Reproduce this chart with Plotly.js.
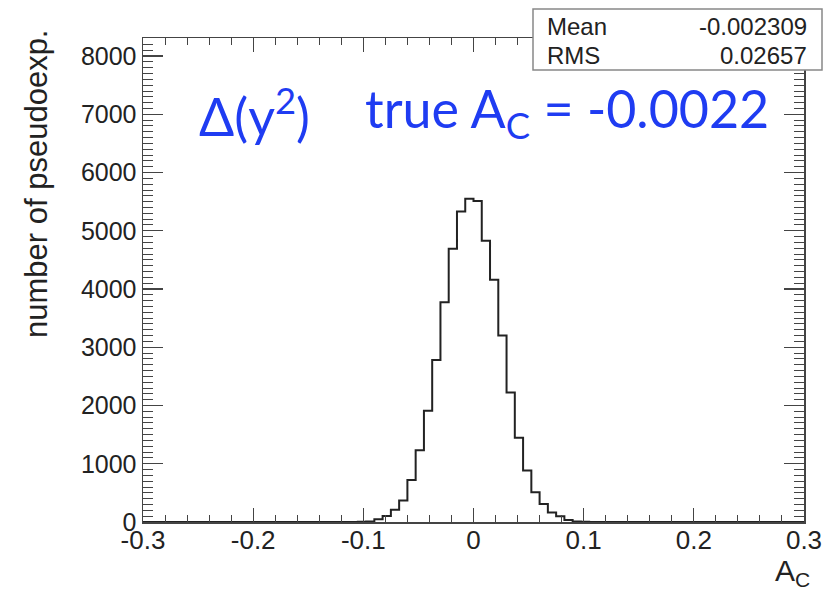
<!DOCTYPE html>
<html>
<head>
<meta charset="utf-8">
<script src="https://cdn.plot.ly/plotly-3.0.1.min.js"></script>
<style>html,body{margin:0;padding:0;background:#fff;}#chart{width:824px;height:592px;}</style>
</head>
<body>
<div id="chart"></div>
<script>
// Histogram: 80 bins from -0.3 to 0.3
const xMin = -0.3;
const xMax = 0.3;
const counts = [
  0,0,0,0,0,0,0,0,0,0,
  0,0,0,0,0,0,0,0,0,0,
  0,0,0,0,0,1,3,10,48,105,
  210,370,720,1230,1910,2780,3775,4690,5330,5550,
  5510,4830,4160,3200,2225,1445,885,510,310,165,
  100,35,10,3,1,0,0,0,0,0,
  0,0,0,0,0,0,0,0,0,0,
  0,0,0,0,0,0,0,0,0,0
];
const xTickVals = [-0.3,-0.2,-0.1,0,0.1,0.2,0.3];
const xTickText = ['-0.3','-0.2','-0.1','0','0.1','0.2','0.3'];
const yTickVals = [0,1000,2000,3000,4000,5000,6000,7000,8000];
const yTickText = ['0','1000','2000','3000','4000','5000','6000','7000','8000'];
const statNames = ['Mean','RMS'];
const statValues = ['-0.002309','0.02657'];
const xTitle = 'A<sub>C</sub>';
const yTitle = 'number of pseudoexp.';
const label1 = 'Δ(y<sup>2</sup>)';
const label2 = 'true A<sub>C</sub> = -0.0022';

const nb = counts.length;
const w = (xMax - xMin) / nb;
const xs = [], ys = [];
for (let i = 0; i <= nb; i++) {
  xs.push(xMin + i * w);
  ys.push(i < nb ? counts[i] : counts[nb - 1]);
}

const W = 824, H = 592;
const L = 143, R = 20, T = 38, B = 70;
const pw = W - L - R, ph = H - T - B;
const px = v => (v - L) / pw;
const py = v => (H - B - v) / ph;

const axisColor = '#444';
const textColor = '#222';
const font = 'Liberation Sans, Arial, sans-serif';

const trace = {
  x: xs, y: ys, type: 'scatter', mode: 'lines',
  line: {shape: 'hv', color: '#222', width: 2},
  hoverinfo: 'skip', showlegend: false
};

const annotations = [
  {xref:'paper', yref:'paper', x: px(36), y: py(184), text: yTitle, textangle: -90,
   showarrow:false, xanchor:'center', yanchor:'middle', font:{family:font, size:31, color:textColor}},
  {xref:'paper', yref:'paper', x: px(812), y: py(572), text: xTitle,
   showarrow:false, xanchor:'right', yanchor:'middle', font:{family:font, size:30, color:textColor}},
  {xref:'paper', yref:'paper', x: px(197), y: py(112), text: label1,
   showarrow:false, xanchor:'left', yanchor:'middle', font:{family:'Lato, sans-serif', size:52, color:'#1f3cf2'}},
  {xref:'paper', yref:'paper', x: px(363), y: py(112), text: label2,
   showarrow:false, xanchor:'left', yanchor:'middle', font:{family:'Lato, sans-serif', size:52, color:'#1f3cf2'}}
];
const rowY = [26, 55];
statNames.forEach((n, i) => {
  annotations.push({xref:'paper', yref:'paper', x: px(545), y: py(rowY[i]), text: n,
    showarrow:false, xanchor:'left', yanchor:'middle', font:{family:font, size:24, color:textColor}});
  annotations.push({xref:'paper', yref:'paper', x: px(809), y: py(rowY[i]), text: statValues[i],
    showarrow:false, xanchor:'right', yanchor:'middle', font:{family:font, size:24, color:textColor}});
});

const layout = {
  width: W, height: H,
  margin: {l: L, r: R, t: T, b: B, pad: 0},
  paper_bgcolor: '#fff', plot_bgcolor: '#fff',
  showlegend: false,
  xaxis: {
    range: [xMin, xMax], tickmode: 'array', tickvals: xTickVals, ticktext: xTickText,
    ticks: 'inside', ticklen: 14, tickwidth: 1.2, tickcolor: axisColor,
    showline: true, linecolor: axisColor, linewidth: 1.5, mirror: 'ticks',
    showgrid: false, zeroline: false, ticklabelstandoff: -6,
    tickfont: {family: font, size: 26, color: textColor},
    minor: {tickmode: 'linear', tick0: -0.3, dtick: 0.02, ticks: 'inside', ticklen: 7, tickcolor: axisColor, tickwidth: 1, showgrid: false}
  },
  yaxis: {
    range: [0, 8310], tickmode: 'array', tickvals: yTickVals, ticktext: yTickText,
    ticks: 'inside', ticklen: 20, tickwidth: 1.2, tickcolor: axisColor,
    showline: true, linecolor: axisColor, linewidth: 1.5, mirror: 'ticks',
    showgrid: false, zeroline: false,
    tickfont: {family: font, size: 25, color: textColor},
    minor: {tickmode: 'linear', tick0: 0, dtick: 100, ticks: 'inside', ticklen: 10, tickcolor: axisColor, tickwidth: 1, showgrid: false}
  },
  shapes: [
    {type:'rect', xref:'paper', yref:'paper', x0: px(533), x1: px(822), y0: py(70), y1: py(9),
     line:{color:'#888', width:1.5}, fillcolor:'#fff', layer:'above'}
  ],
  annotations: annotations
};

Plotly.newPlot('chart', [trace], layout, {displayModeBar: false, staticPlot: true});
</script>
</body>
</html>
